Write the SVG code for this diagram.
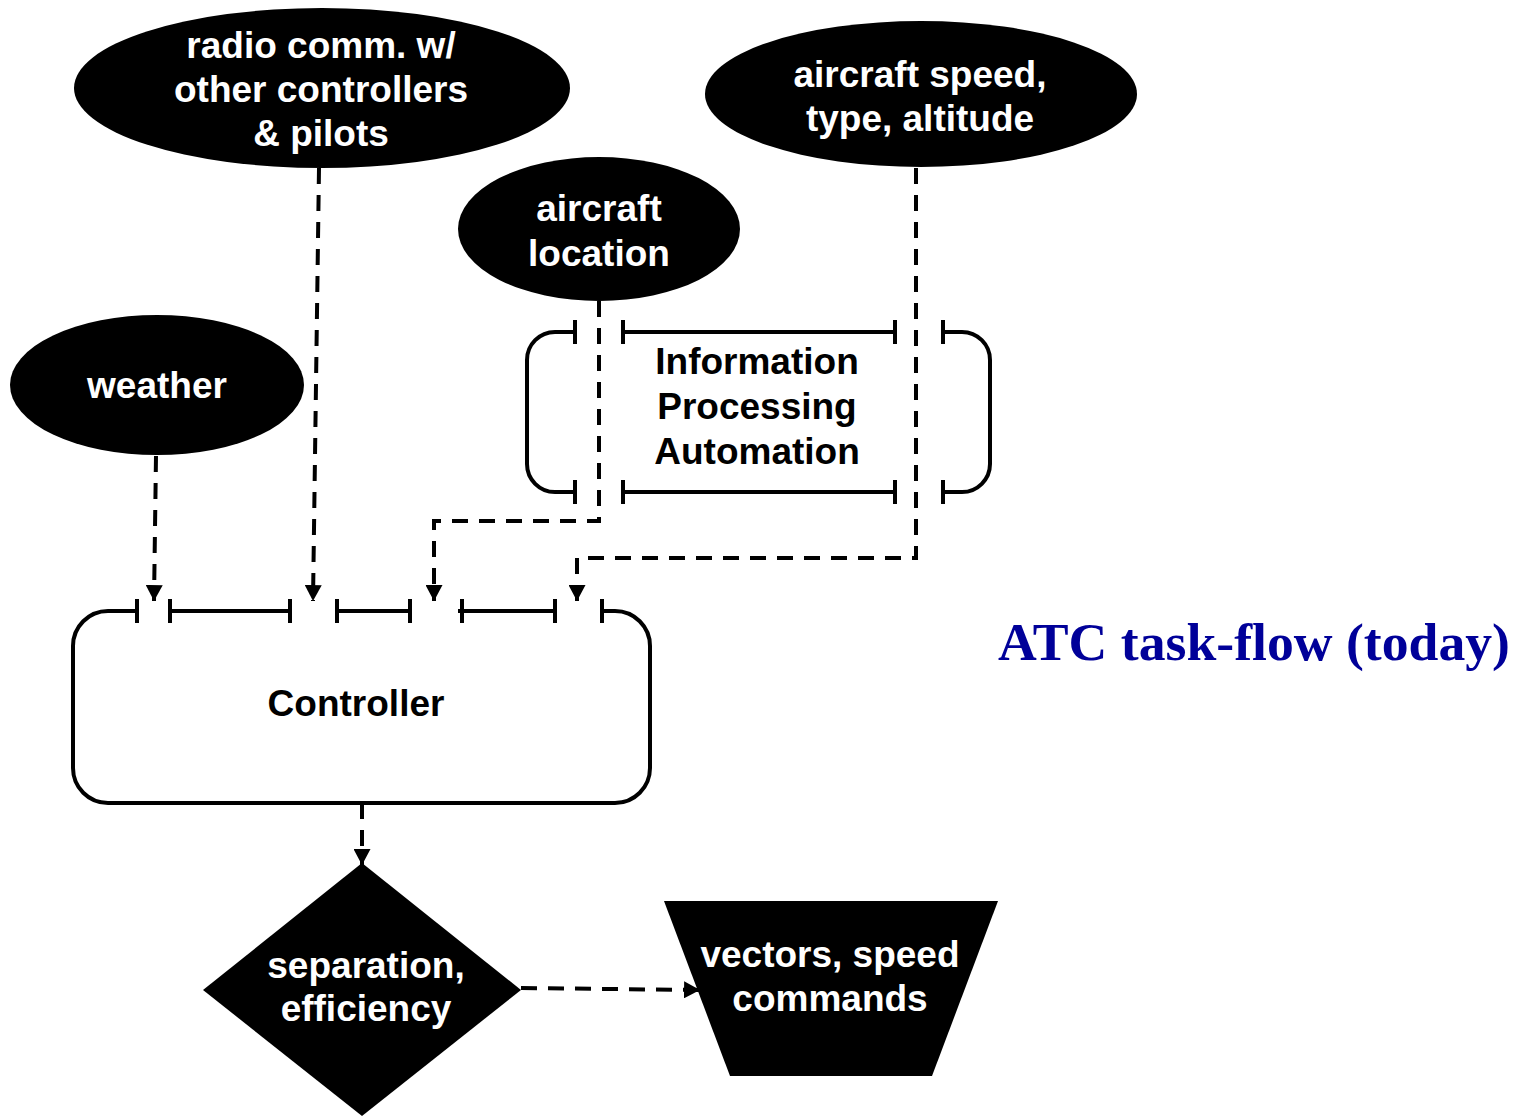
<svg xmlns="http://www.w3.org/2000/svg" width="1524" height="1116" viewBox="0 0 1524 1116">
<style>
.node{fill:#000}
.lbl{font-family:"Liberation Sans",Arial,sans-serif;font-weight:bold;font-size:37px;text-anchor:middle}
.w{fill:#fff}
.b{fill:#000}
.frame{fill:none;stroke:#000;stroke-width:4}
.conn{fill:none;stroke:#000;stroke-width:4;stroke-dasharray:16 11}
.title{font-family:"Liberation Serif","Times New Roman",serif;font-weight:bold;font-size:53.7px;fill:#000099}
</style>
<defs>
<marker id="arr" markerUnits="userSpaceOnUse" markerWidth="17" markerHeight="17" viewBox="0 0 16 16" refX="15" refY="8" orient="auto">
<path d="M0,0 L15,8 L0,16 Z" fill="#000"/>
</marker>
</defs>
<rect width="1524" height="1116" fill="#fff"/>

<g id="radio">
<ellipse class="node" cx="322" cy="88" rx="248" ry="80"/>
<text class="lbl w" x="321" y="58">radio comm. w/</text>
<text class="lbl w" x="321" y="102">other controllers</text>
<text class="lbl w" x="321" y="146">&amp; pilots</text>
</g>
<g id="speed">
<ellipse class="node" cx="921" cy="94" rx="216" ry="73"/>
<text class="lbl w" x="920" y="87">aircraft speed,</text>
<text class="lbl w" x="920" y="131">type, altitude</text>
</g>
<g id="location">
<ellipse class="node" cx="599" cy="229" rx="141" ry="72"/>
<text class="lbl w" x="599" y="221">aircraft</text>
<text class="lbl w" x="599" y="266">location</text>
</g>
<g id="weather">
<ellipse class="node" cx="157" cy="385" rx="147" ry="70"/>
<text class="lbl w" x="157" y="398">weather</text>
</g>

<g id="automation">
<path class="frame" d="M575,332 H555 A28,28 0 0 0 527,360 V464 A28,28 0 0 0 555,492 H575 M575,320 V344 M575,480 V504 M623,320 V344 M623,332 H895 M895,320 V344 M623,480 V504 M623,492 H895 M895,480 V504 M943,320 V344 M943,332 H962 A28,28 0 0 1 990,360 V464 A28,28 0 0 1 962,492 H943 M943,480 V504"/>
<text class="lbl b" x="757" y="374">Information</text>
<text class="lbl b" x="757" y="419">Processing</text>
<text class="lbl b" x="757" y="464">Automation</text>
</g>

<g id="controller">
<path class="frame" d="M137,611 H108 A35,35 0 0 0 73,646 V768 A35,35 0 0 0 108,803 H615 A35,35 0 0 0 650,768 V646 A35,35 0 0 0 615,611 H602 M137,599 V623 M170,599 V623 M170,611 H290 M290,599 V623 M337,599 V623 M337,611 H410 M410,599 V623 M462,599 V623 M458,611 H555 M555,599 V623 M602,599 V623"/>
<text class="lbl b" x="356" y="716">Controller</text>
</g>

<g id="decision">
<polygon class="node" points="362,863 521,990 362,1116 203,990"/>
<text class="lbl w" x="366" y="978">separation,</text>
<text class="lbl w" x="366" y="1021">efficiency</text>
</g>

<g id="commands">
<polygon class="node" points="664,901 998,901 932,1076 730,1076"/>
<text class="lbl w" x="830" y="967">vectors, speed</text>
<text class="lbl w" x="830" y="1011">commands</text>
</g>

<g id="connectors">
<path class="conn" d="M156,456 L154,601" marker-end="url(#arr)"/>
<path class="conn" d="M319,168 L313,601" marker-end="url(#arr)"/>
<path class="conn" d="M599,301 V521 H434 V601" marker-end="url(#arr)"/>
<path class="conn" d="M916,168 V558 H577 V601" marker-end="url(#arr)"/>
<path class="conn" d="M362,803 V865" marker-end="url(#arr)"/>
<path class="conn" d="M521,988 L700,990" marker-end="url(#arr)"/>
</g>

<text class="title" x="998" y="660">ATC task-flow (today)</text>
</svg>
